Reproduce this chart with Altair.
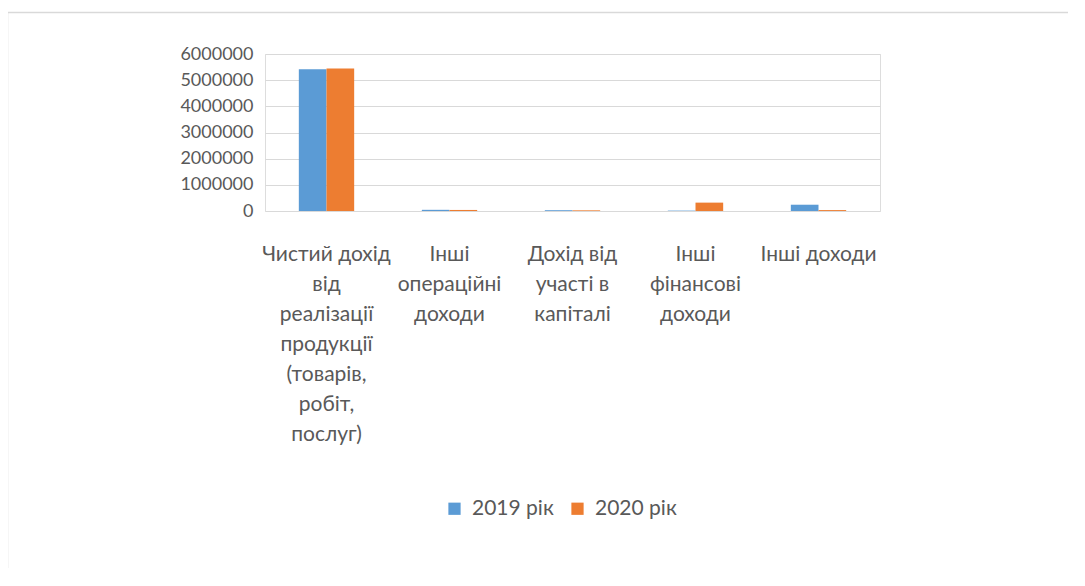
import altair as alt
import pandas as pd

categories = [
    "Чистий дохід від реалізації продукції (товарів, робіт, послуг)",
    "Інші операційні доходи",
    "Дохід від участі в капіталі",
    "Інші фінансові доходи",
    "Інші доходи",
]
label_lines = [
    ["Чистий дохід", "від", "реалізації", "продукції", "(товарів,", "робіт,", "послуг)"],
    ["Інші", "операційні", "доходи"],
    ["Дохід від", "участі в", "капіталі"],
    ["Інші", "фінансові", "доходи"],
    ["Інші доходи"],
]
series = ["2019 рік", "2020 рік"]
values_2019 = [5420000, 45000, 30000, 15000, 240000]
values_2020 = [5450000, 40000, 25000, 320000, 35000]
y_ticks = [0, 1000000, 2000000, 3000000, 4000000, 5000000, 6000000]
colors = ["#5B9BD5", "#ED7D31"]

rows = []
for c, a, b in zip(categories, values_2019, values_2020):
    rows.append({"cat": c, "series": series[0], "value": a})
    rows.append({"cat": c, "series": series[1], "value": b})
df = pd.DataFrame(rows)


def js_str(s):
    return "'" + s.replace("'", "\\'") + "'"


cats_js = "[" + ",".join(js_str(c) for c in categories) + "]"
lines_js = "[" + ",".join("[" + ",".join(js_str(l) for l in ls) + "]" for ls in label_lines) + "]"
label_expr = f"{lines_js}[indexof({cats_js}, datum.value)]"

FONT = "Lato"
TXT = "#595959"

bars = alt.Chart(df).mark_bar().encode(
    x=alt.X(
        "cat:N",
        sort=categories,
        scale=alt.Scale(paddingInner=0.55, paddingOuter=0.275),
        axis=alt.Axis(
            title=None,
            labelAngle=0,
            labelExpr=label_expr,
            labelFont=FONT,
            labelFontSize=21,
            labelColor=TXT,
            labelLineHeight=30,
            labelPadding=32,
            labelOverlap=False,
            labelLimit=300,
            ticks=False,
            domain=False,
            grid=False,
        ),
    ),
    xOffset=alt.XOffset("series:N", sort=series),
    y=alt.Y(
        "value:Q",
        scale=alt.Scale(domain=[0, 6000000], nice=False),
        axis=alt.Axis(
            title=None,
            values=y_ticks,
            format="d",
            labelFont=FONT,
            labelFontSize=18,
            labelColor=TXT,
            labelPadding=12,
            ticks=False,
            domain=False,
            grid=True,
            gridColor="#D9D9D9",
            gridWidth=1,
        ),
    ),
    color=alt.Color(
        "series:N",
        sort=series,
        scale=alt.Scale(domain=series, range=colors),
        legend=alt.Legend(
            title=None,
            orient="none",
            legendX=179,
            legendY=444,
            direction="horizontal",
            symbolType="square",
            symbolSize=150,
            symbolStrokeWidth=0,
            labelFont=FONT,
            labelFontSize=21,
            labelColor=TXT,
            columnPadding=13,
            labelOffset=7,
        ),
    ),
)

border = alt.Chart(pd.DataFrame({"k": [0]})).mark_rect(
    fill=None, stroke="#D9D9D9", strokeWidth=1.5
).encode(
    x=alt.value(-257.5), x2=alt.value(900), y=alt.value(-41.5), y2=alt.value(600)
)

chart = alt.layer(border, bars).properties(
    width=615,
    height=157,
    autosize=alt.AutoSizeParams(type="none"),
    padding={"left": 257, "top": 46, "right": 188, "bottom": 357},
).configure_view(stroke=None).configure(background="white")

chart.save("out.html", embed_options={"renderer": "svg", "actions": False})
